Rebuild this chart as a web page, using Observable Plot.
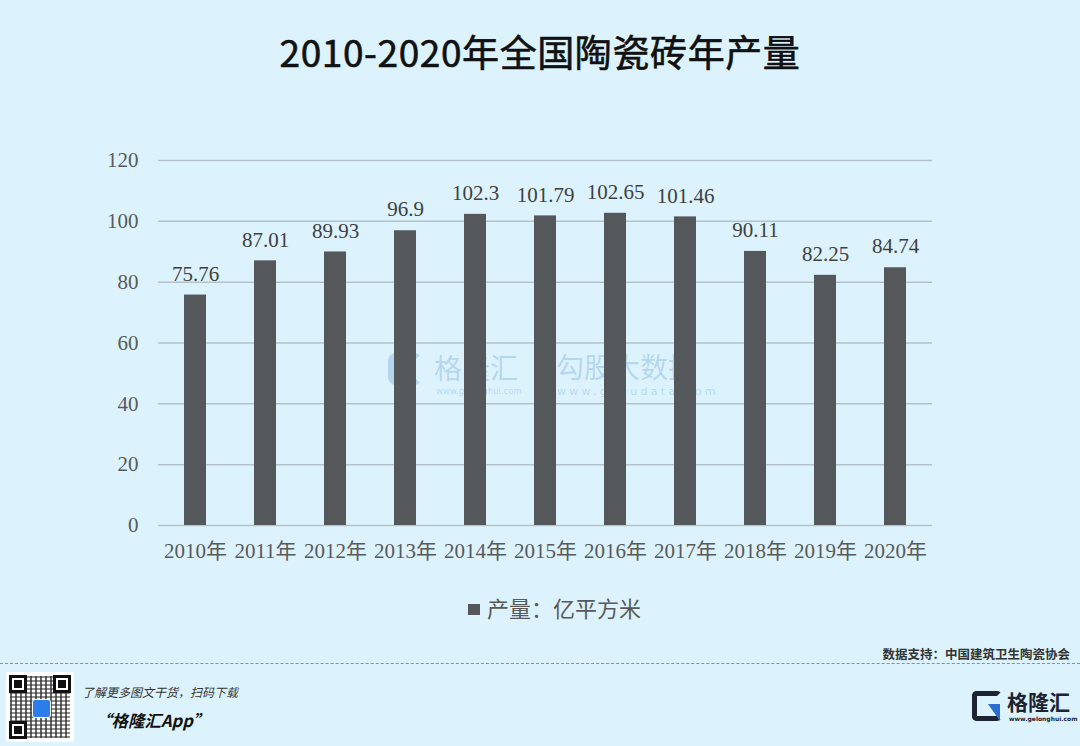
<!DOCTYPE html>
<html>
<head>
<meta charset="utf-8">
<script src="https://cdn.jsdelivr.net/npm/d3@7"></script>
<script src="https://cdn.jsdelivr.net/npm/@observablehq/plot@0.6"></script>
<style>
  html, body { margin: 0; padding: 0; background: #dcf3fd; }
  #wrap { position: relative; width: 1080px; height: 746px; overflow: hidden; background: #dcf3fd; font-family: "Noto Sans CJK SC", "Noto Sans", sans-serif; }
  .abs { position: absolute; white-space: nowrap; line-height: 1; }
  #title { left: 0; width: 1080px; top: 33px; text-align: center; font-size: 37px; font-weight: 400; color: #111; letter-spacing: 0.6px; -webkit-text-stroke: 0.6px #111; }
  #chart { position: absolute; left: 0; top: 0; z-index: 2; }
  #legend { left: 468px; top: 596px; font-size: 22px; color: #595959; z-index: 2; }
  #legend .sw { display: inline-block; width: 12px; height: 11px; background: #54585b; margin-right: 7px; vertical-align: 2px; }
  #source { right: 10px; top: 648px; font-size: 12.5px; font-weight: 700; color: #333; }
  #dash { left: 0; top: 663px; width: 1080px; height: 0; border-top: 1px dashed #8a8f93; }
  #qr { left: 6px; top: 672px; width: 68px; height: 70px; background: #fff; border-radius: 3px; }
  #qrin { position: absolute; left: 4px; top: 4px; width: 60px; height: 62px;
    background:
      repeating-linear-gradient(90deg, rgba(0,0,0,0.75) 0 2px, transparent 2px 5px),
      repeating-linear-gradient(0deg, rgba(0,0,0,0.55) 0 2px, transparent 2px 4px);
    opacity: 0.8; }
  .finder { position: absolute; width: 12px; height: 12px; border: 3px solid #111; background: #fff; box-shadow: inset 0 0 0 2px #fff, inset 0 0 0 6px #111; }
  #qrG { position: absolute; left: 26px; top: 27px; width: 17px; height: 17px; background: #2b7de9; border-radius: 3px; border: 1px solid #fff; }
  #t1 { left: 82px; top: 686px; font-size: 12px; font-style: italic; color: #333; }
  #t2 { left: 95px; top: 712px; font-size: 16.5px; font-style: italic; font-weight: 700; color: #111; }
  #logoIcon { left: 972px; top: 691px; width: 20px; height: 20px; border: 5px solid #1c2333; border-right-color: transparent; border-radius: 5px; }
  #logoBlue { left: 988px; top: 704px; width: 12px; height: 17px; background: #2a6fd0; clip-path: polygon(0 0, 100% 0, 100% 100%); }
  #logoText { left: 1007px; top: 691px; font-size: 21px; font-weight: 700; color: #1c2333; }
  #logoUrl { left: 1009px; top: 716px; font-size: 6px; color: #1c2333; font-family: "DejaVu Sans", sans-serif; font-weight: 700; }
  .wm { color: rgba(80,140,200,0.28); z-index: 1; }
  #wmG { left: 388px; top: 353px; width: 20px; height: 18px; border: 7px solid rgba(80,140,200,0.28); border-right-color: transparent; border-radius: 8px; z-index: 1; }
  #wm1 { left: 434px; top: 353px; font-size: 28px; }
  #wm1u { left: 436px; top: 387px; font-size: 8.5px; font-family: "DejaVu Sans", sans-serif; }
  #wm2 { left: 556px; top: 352px; font-size: 28px; }
  #wm2u { left: 557px; top: 386px; font-size: 11px; letter-spacing: 3.3px; font-family: "DejaVu Sans", sans-serif; }
</style>
</head>
<body>
<div id="wrap">
  <div id="title" class="abs">2010-2020年全国陶瓷砖年产量</div>
  <div id="wmG" class="abs"></div>
  <div id="wm1" class="abs wm">格隆汇</div>
  <div id="wm1u" class="abs wm">www.gelonghui.com</div>
  <div id="wm2" class="abs wm">勾股大数据</div>
  <div id="wm2u" class="abs wm">www.gogudata.com</div>
  <div id="legend" class="abs"><span class="sw"></span>产量：亿平方米</div>
  <div id="source" class="abs">数据支持：中国建筑卫生陶瓷协会</div>
  <div id="dash" class="abs"></div>
  <div id="qr" class="abs"><div id="qrin"></div>
    <div class="finder" style="left:3px;top:3px"></div>
    <div class="finder" style="left:47px;top:3px"></div>
    <div class="finder" style="left:3px;top:49px"></div>
    <div id="qrG"></div>
  </div>
  <div id="t1" class="abs">了解更多图文干货，扫码下载</div>
  <div id="t2" class="abs">“格隆汇App”</div>
  <div id="logoIcon" class="abs"></div>
  <div id="logoBlue" class="abs"></div>
  <div id="logoText" class="abs">格隆汇</div>
  <div id="logoUrl" class="abs">www.gelonghui.com</div>
</div>
<script>
const years = ["2010年","2011年","2012年","2013年","2014年","2015年","2016年","2017年","2018年","2019年","2020年"];
const output = [75.76, 87.01, 89.93, 96.9, 102.3, 101.79, 102.65, 101.46, 90.11, 82.25, 84.74];
const yTicks = [0, 20, 40, 60, 80, 100, 120];

const data = years.map((y, i) => ({year: y, value: output[i]}));

const chart = Plot.plot({
  width: 1080,
  height: 580,
  marginTop: 160,
  marginBottom: 55,
  marginLeft: 158,
  marginRight: 148,
  style: {background: "transparent", fontFamily: "'Liberation Serif', 'Noto Sans CJK SC', serif", color: "#595959"},
  x: {type: "band", domain: years, paddingInner: 0.68, paddingOuter: 0.34, label: null},
  y: {domain: [0, 120], label: null},
  marks: [
    Plot.ruleY(yTicks, {stroke: "#b3c2ca", strokeWidth: 1.5}),
    Plot.barY(data, {x: "year", y: "value", fill: "#54585b"}),
    Plot.text(data, {x: "year", y: "value", text: d => String(d.value), dy: -21, fontSize: 21, fill: "#404040", fontFamily: "'Liberation Serif', serif"}),
    Plot.axisY({ticks: yTicks, tickSize: 0, tickPadding: 20, fontSize: 21, label: null}),
    Plot.axisX({tickSize: 0, tickPadding: 18, fontSize: 21, label: null})
  ]
});
chart.id = "chart";
document.getElementById("wrap").appendChild(chart);
</script>
</body>
</html>
